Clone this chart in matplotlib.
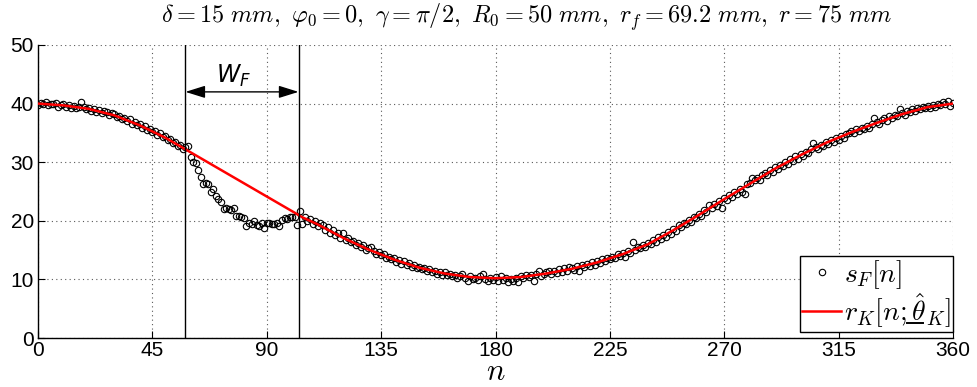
import numpy as np
import matplotlib
matplotlib.use('Agg')
import matplotlib.pyplot as plt
from matplotlib import font_manager
from matplotlib.lines import Line2D
from matplotlib.patches import ArrowStyle

# ---------------- data ----------------
sF = ([39.8, 40.1, 39.9, 40.2, 39.7, 40.0, 39.9, 40.1, 39.5, 39.8] +            # 0-9
      [39.9, 39.5, 39.7, 39.3, 39.6, 39.2, 39.5, 40.3, 39.4, 39.0] +            # 10-19
      [39.3, 38.8, 39.0, 38.6, 38.9, 38.4, 38.7, 38.5, 38.1, 38.4] +            # 20-29
      [38.2, 37.7, 37.9, 37.3, 37.6, 37.0, 37.3, 36.6, 36.9, 36.3] +            # 30-39
      [36.5, 35.9, 36.1, 35.5, 35.7, 35.1, 35.3, 34.7, 34.9, 34.3] +            # 40-49
      [34.4, 33.8, 34.0, 33.3, 33.5, 32.8, 33.0, 32.3, 32.6, 32.8] +            # 50-59
      [30.9, 30.0, 29.8, 28.6, 27.4, 26.3, 26.4, 26.2, 25.0, 25.4] +            # 60-69
      [24.3, 23.8, 23.2, 22.0, 22.2, 22.0, 21.9, 22.1, 20.8, 20.9] +            # 70-79
      [20.6, 20.5, 19.1, 19.7, 19.5, 19.9, 19.3, 19.1, 19.6, 18.7] +            # 80-89
      [19.6, 19.7, 19.5, 19.4, 19.7, 19.1, 20.1, 20.4, 20.3, 20.6] +            # 90-99
      [20.7, 20.6, 19.2, 21.6, 19.4, 20.6, 20.0, 20.3, 19.5, 19.9] +            # 100-109
      [19.1, 19.6, 19.3, 18.5, 18.9, 18.0, 18.4, 17.6, 17.9, 17.1] +            # 110-119
      [17.9, 16.7, 17.0, 16.3, 16.6, 15.9, 16.2, 15.5, 15.8, 15.1] +            # 120-129
      [15.3, 15.6, 14.8, 14.4, 14.6, 14.1, 14.3, 13.7, 13.9, 13.4] +            # 130-139
      [13.6, 13.0, 13.3, 12.7, 13.1, 12.5, 12.8, 12.2, 12.5, 11.9] +            # 140-149
      [12.2, 11.7, 11.9, 11.4, 11.8, 11.2, 11.5, 10.9, 11.3, 10.8] +            # 150-159
      [11.2, 10.7, 10.9, 10.5, 10.8, 10.3, 10.6, 10.9, 10.2, 9.7] +             # 160-169
      [10.5, 10.1, 10.3, 9.9, 10.6, 10.9, 10.0, 9.8, 10.2, 9.9] +               # 170-179
      [10.4, 9.8, 10.5, 9.9, 10.2, 9.5, 10.1, 9.7, 10.3, 9.6] +                 # 180-189
      [10.6, 10.2, 10.8, 10.4, 10.7, 9.7, 10.9, 11.4, 10.6, 11.0] +             # 190-199
      [11.2, 11.5, 10.9, 11.4, 11.1, 11.7, 11.3, 12.0, 11.5, 12.2] +            # 200-209
      [12.0, 11.6, 12.3, 11.4, 12.5, 12.1, 12.7, 12.3, 12.9, 12.5] +            # 210-219
      [13.1, 12.8, 13.4, 13.1, 13.7, 13.4, 13.9, 13.6, 14.3, 14.0] +            # 220-229
      [14.5, 13.9, 14.8, 14.5, 16.3, 15.0, 15.5, 15.3, 15.8, 15.6] +            # 230-239
      [16.2, 16.0, 16.7, 16.4, 17.2, 16.9, 17.6, 17.3, 18.1, 17.8] +            # 240-249
      [18.6, 18.3, 19.2, 18.9, 19.7, 19.4, 20.2, 19.8, 20.7, 20.4] +            # 250-259
      [21.2, 20.9, 21.8, 21.5, 22.7, 22.1, 22.9, 22.6, 23.4, 22.2] +            # 260-269
      [23.9, 23.6, 24.4, 24.1, 24.9, 24.6, 25.4, 25.0, 24.5, 26.2] +            # 270-279
      [26.5, 27.3, 26.9, 27.3, 27.0, 27.8, 28.1, 27.8, 28.6, 28.3] +            # 280-289
      [29.1, 28.8, 29.6, 29.3, 30.1, 29.7, 30.5, 30.2, 31.0, 30.6] +            # 290-299
      [31.4, 31.1, 31.8, 31.5, 32.2, 33.2, 32.6, 32.3, 33.0, 32.7] +            # 300-309
      [33.5, 33.1, 33.8, 33.5, 34.1, 33.8, 34.4, 34.1, 34.8, 34.9] +            # 310-319
      [35.3, 34.9, 35.6, 35.3, 35.9, 35.6, 36.2, 35.9, 36.6, 37.6] +            # 320-329
      [36.9, 36.5, 37.2, 37.5, 37.1, 37.8, 37.5, 38.1, 37.8, 39.0] +            # 330-339
      [38.4, 38.1, 38.7, 38.5, 39.0, 38.7, 39.2, 39.0, 39.5, 39.2] +            # 340-349
      [39.6, 39.3, 39.8, 39.5, 40.0, 39.7, 40.2, 39.9, 40.5, 39.6, 40.1])       # 350-360
n_samples = list(range(len(sF)))

# fitted model curve r_K (straight across the gap W_F)
nK = [0, 10, 20, 30, 40, 50, 58, 102.5, 104, 110, 120, 130, 140, 150, 160, 170,
      180, 190, 200, 210, 220, 230, 240, 250, 260, 270, 280, 290, 300, 310,
      320, 330, 340, 350, 360]
rK = [40.0, 39.7, 39.1, 38.0, 36.3, 34.2, 32.2, 21.0, 20.6, 19.4, 17.1, 15.1,
      13.4, 12.0, 11.0, 10.4, 10.2, 10.4, 11.0, 11.8, 12.9, 14.3, 16.0, 18.4,
      21.0, 23.7, 26.3, 28.9, 31.2, 33.3, 35.1, 36.7, 38.2, 39.4, 40.0]

gap_start, gap_end = 58, 102.5
arrow_y = 42.0
wf_label_x, wf_label_y = 77, 44.8

xticks = [0, 45, 90, 135, 180, 225, 270, 315, 360]
yticks = [0, 10, 20, 30, 40, 50]

title = (r'$\delta=15\ mm,\ \varphi_0=0,\ \gamma=\pi/2,\ R_0=50\ mm,\ '
         r'r_f=69.2\ mm,\ r=75\ mm$')
label_s = r'$s_F[n]$'
label_r = r'$r_K[n;\hat{\theta}_K]$'

# ---------------- styling ----------------
plt.rcParams['mathtext.fontset'] = 'cm'
names = {f.name for f in font_manager.fontManager.ttflist}
tick_font = 'Liberation Sans Narrow' if 'Liberation Sans Narrow' in names else 'Liberation Sans'
tick_size = 17 if tick_font == 'Liberation Sans Narrow' else 15

W, H = 977, 387
fig = plt.figure(figsize=(W / 100, H / 100), dpi=100)
ax = fig.add_axes([38 / W, 1 - 338 / H, (953 - 38) / W, (338 - 45) / H])

ax.plot(n_samples, sF, 'o', mfc='none', mec='k', ms=4.6, mew=0.8, zorder=3)
ax.plot(nK, rK, color='red', lw=1.8, zorder=4)

ax.axvline(gap_start, color='k', lw=1.0, zorder=5)
ax.axvline(gap_end, color='k', lw=1.0, zorder=5)
ax.annotate('', xy=(gap_start, arrow_y), xytext=(gap_end, arrow_y),
            arrowprops=dict(arrowstyle=ArrowStyle('<|-|>', head_length=0.8, head_width=0.25),
                            mutation_scale=15, color='k', lw=1.0, shrinkA=0, shrinkB=0),
            zorder=6)
ax.text(wf_label_x, wf_label_y, r'$W_F$', math_fontfamily='dejavusans',
        fontsize=17, ha='center', va='center')

ax.set_xlim(0, 360)
ax.set_ylim(0, 50)
ax.set_xticks(xticks)
ax.set_yticks(yticks)
ax.grid(True, linestyle=(0, (1, 3)), color='0.35', lw=0.8)
ax.set_axisbelow(True)
for s in ['top', 'right']:
    ax.spines[s].set_visible(False)
for s in ['left', 'bottom']:
    ax.spines[s].set_linewidth(1.0)
ax.tick_params(direction='in', length=5, width=0.8, labelsize=tick_size, pad=2)
ax.tick_params(axis='y', pad=3)
for lab in ax.get_xticklabels() + ax.get_yticklabels():
    lab.set_fontfamily(tick_font)

fig.text(527 / W, 1 - 17 / H, title, fontsize=17.5, ha='center', va='center')
ax.set_xlabel(r'$n$', fontsize=22, labelpad=-2)

handles = [Line2D([], [], ls='none', marker='o', mfc='none', mec='k', ms=4.6, mew=0.8),
           Line2D([], [], color='red', lw=1.8)]
LFS = 20
leg = ax.legend(handles, [label_s, label_r], loc='lower right',
                bbox_to_anchor=(1.0, 0.02), borderaxespad=0, fontsize=LFS,
                fancybox=False, framealpha=1, edgecolor='k', handlelength=1.4,
                handletextpad=0.1, borderpad=0.08, labelspacing=0.0)
leg.get_frame().set_linewidth(1.0)

# underline under hat-theta (mathtext has no \underline)
fig.canvas.draw()
rend = fig.canvas.get_renderer()
t = leg.get_texts()[1]
bb = t.get_window_extent(rend)
tmp1 = fig.text(0, 0, r'$r_K[n;$', fontsize=LFS)
tmp2 = fig.text(0, 0, r'$\theta$', fontsize=LFS)
w1 = tmp1.get_window_extent(rend).width
w2 = tmp2.get_window_extent(rend).width
tmp1.remove(); tmp2.remove()
x0 = bb.x0 + w1 + 0.5
x1 = x0 + w2 + 1
yl = bb.y0 + 0.17 * bb.height
fig.add_artist(Line2D([x0 / W, x1 / W], [yl / H, yl / H], transform=fig.transFigure,
                      color='k', lw=1.4, zorder=10))

fig.savefig('out.png', dpi=100)
